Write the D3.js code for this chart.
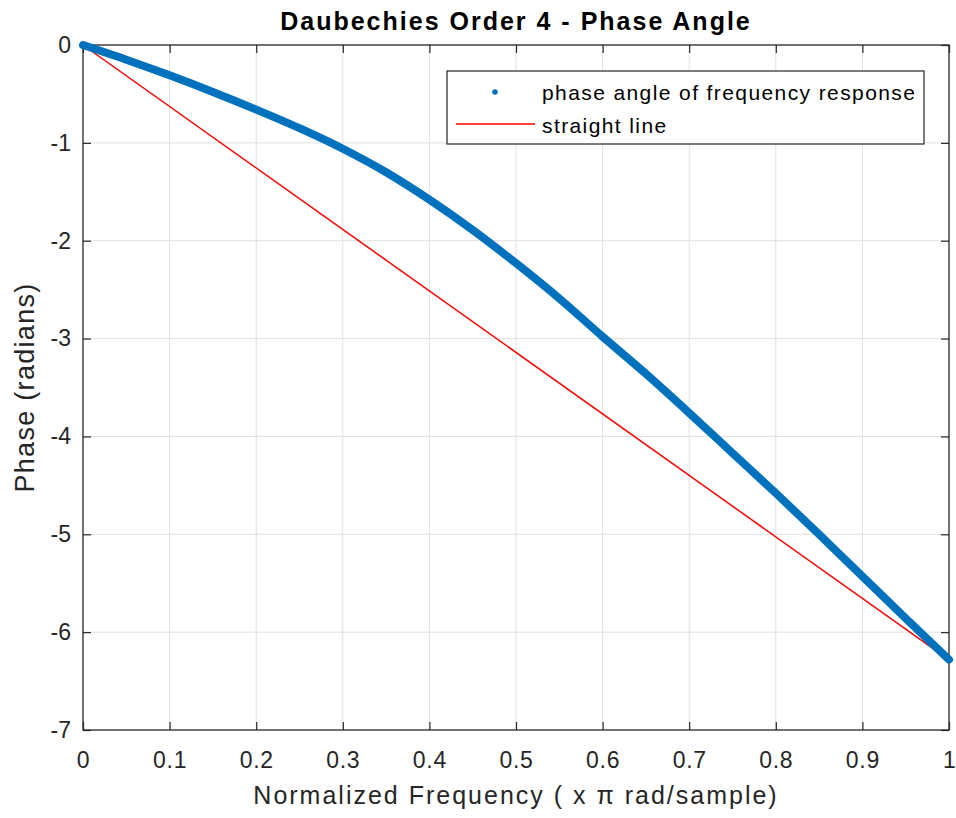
<!DOCTYPE html>
<html>
<head>
<meta charset="utf-8">
<script src="https://cdn.jsdelivr.net/npm/d3@7"></script>
<style>
body { margin: 0; background: #fff; }
svg { display: block; font-family: "Liberation Sans", Arial, Helvetica, sans-serif; }
</style>
</head>
<body>
<script>
// values
const freq = [0, 0.05, 0.1, 0.15, 0.2, 0.25, 0.3, 0.35, 0.4, 0.45, 0.5, 0.55, 0.6, 0.65, 0.7, 0.75, 0.8, 0.85, 0.9, 0.95, 1]
const phase = [0, -0.15, -0.31, -0.48, -0.66, -0.85, -1.06, -1.30, -1.58, -1.89, -2.23, -2.59, -2.98, -3.36, -3.76, -4.17, -4.58, -5.0, -5.43, -5.86, -6.28]

const lineFreq = [0, 1]
const lineVals = [0, -6.2832]

const xTicks = [0, 0.1, 0.2, 0.3, 0.4, 0.5, 0.6, 0.7, 0.8, 0.9, 1]
const yTicks = [0, -1, -2, -3, -4, -5, -6, -7]
const legendLabels = ['phase angle of frequency response', 'straight line']

const margin = {
	top: 45,
	bottom: 88,
	left: 83,
	right: 7
}

const W = 956, H = 818
const width = W - margin.left - margin.right
const height = H - margin.top - margin.bottom

const axisColor = '#262626'
const blue = '#0072BD'
const red = '#FF0000'

const svg = d3.select('body').append('svg')
	.attr('width', W)
	.attr('height', H)

const g = svg.append('g')
	.attr('transform', 'translate(' + margin.left + ',' + margin.top + ')')

const xScale = d3.scaleLinear().domain([0, 1]).range([0, width])
const yScale = d3.scaleLinear().domain([-7, 0]).range([height, 0])

// grid
g.append('g').selectAll('line')
	.data(xTicks.slice(1, -1))
	.enter().append('line')
	.attr('x1', d => xScale(d)).attr('x2', d => xScale(d))
	.attr('y1', 0).attr('y2', height)
	.attr('stroke', '#e0e0e0').attr('stroke-width', 1)

g.append('g').selectAll('line')
	.data(yTicks.slice(1, -1))
	.enter().append('line')
	.attr('x1', 0).attr('x2', width)
	.attr('y1', d => yScale(d)).attr('y2', d => yScale(d))
	.attr('stroke', '#e0e0e0').attr('stroke-width', 1)

// axes, ticks pointing inward
const tickLen = 8
const xAxis = d3.axisBottom(xScale).tickValues(xTicks).tickSizeInner(-tickLen).tickSizeOuter(0).tickPadding(22)
	.tickFormat(d => d)
const yAxis = d3.axisLeft(yScale).tickValues(yTicks).tickSizeInner(-tickLen).tickSizeOuter(0).tickPadding(12)
	.tickFormat(d => d)

const gx = g.append('g')
	.attr('transform', 'translate(0,' + height + ')')
	.call(xAxis)
const gy = g.append('g').call(yAxis)

g.append('g').call(d3.axisTop(xScale).tickValues(xTicks).tickSizeInner(-tickLen).tickSizeOuter(0).tickFormat(''))
g.append('g').attr('transform', 'translate(' + width + ',0)')
	.call(d3.axisRight(yScale).tickValues(yTicks).tickSizeInner(-tickLen).tickSizeOuter(0).tickFormat(''))

g.selectAll('.domain').remove()
g.selectAll('.tick line').attr('stroke', axisColor).attr('stroke-width', 1.2)
g.selectAll('.tick text')
	.attr('fill', axisColor)
	.style('font-size', '23px')
gx.selectAll('.tick text').attr('dy', '0.71em')
	.style('letter-spacing', d => d === 1 ? '0px' : '0.7px')

// box
g.append('rect')
	.attr('x', 0).attr('y', 0)
	.attr('width', width).attr('height', height)
	.attr('fill', 'none')
	.attr('stroke', axisColor)
	.attr('stroke-width', 1.3)

// straight line
const line = d3.line()
	.x(d => xScale(d[0]))
	.y(d => yScale(d[1]))

g.append('path')
	.datum(d3.zip(lineFreq, lineVals))
	.attr('d', line)
	.attr('fill', 'none')
	.attr('stroke', red)
	.attr('stroke-width', 1.5)

// phase curve (dense dot markers in the original, drawn as a thick stroke)
g.append('path')
	.datum(d3.zip(freq, phase))
	.attr('d', line.curve(d3.curveMonotoneX))
	.attr('fill', 'none')
	.attr('stroke', blue)
	.attr('stroke-width', 8)
	.attr('stroke-linecap', 'round')

// title & labels
svg.append('text')
	.attr('x', margin.left + width / 2)
	.attr('y', 30)
	.attr('text-anchor', 'middle')
	.style('font-size', '25px')
	.style('font-weight', 'bold')
	.style('letter-spacing', '2px')
	.attr('fill', '#000')
	.text('Daubechies Order 4 - Phase Angle')

svg.append('text')
	.attr('x', margin.left + width / 2)
	.attr('y', 804)
	.attr('text-anchor', 'middle')
	.style('font-size', '25px')
	.style('letter-spacing', '2px')
	.attr('fill', axisColor)
	.text('Normalized Frequency ( x \u03C0 rad/sample)')

svg.append('text')
	.attr('transform', 'rotate(-90)')
	.attr('x', -(margin.top + height / 2))
	.attr('y', 34)
	.attr('text-anchor', 'middle')
	.style('font-size', '27px')
	.style('letter-spacing', '1.3px')
	.attr('fill', axisColor)
	.text('Phase (radians)')

// legend
const legend = svg.append('g').attr('transform', 'translate(447,71)')
legend.append('rect')
	.attr('width', 477).attr('height', 73)
	.attr('fill', '#fff')
	.attr('stroke', axisColor)
	.attr('stroke-width', 1.2)

legend.append('circle')
	.attr('cx', 48).attr('cy', 21)
	.attr('r', 2.8)
	.attr('fill', blue)

legend.append('line')
	.attr('x1', 9).attr('x2', 88)
	.attr('y1', 53).attr('y2', 53)
	.attr('stroke', red).attr('stroke-width', 1.5)

legend.selectAll('text.lbl')
	.data(legendLabels)
	.enter().append('text')
	.attr('class', 'lbl')
	.attr('x', 95)
	.attr('y', (d, i) => 29 + i * 33)
	.style('font-size', '21px')
	.style('letter-spacing', '1.4px')
	.attr('fill', '#000')
	.text(d => d)
</script>
</body>
</html>
